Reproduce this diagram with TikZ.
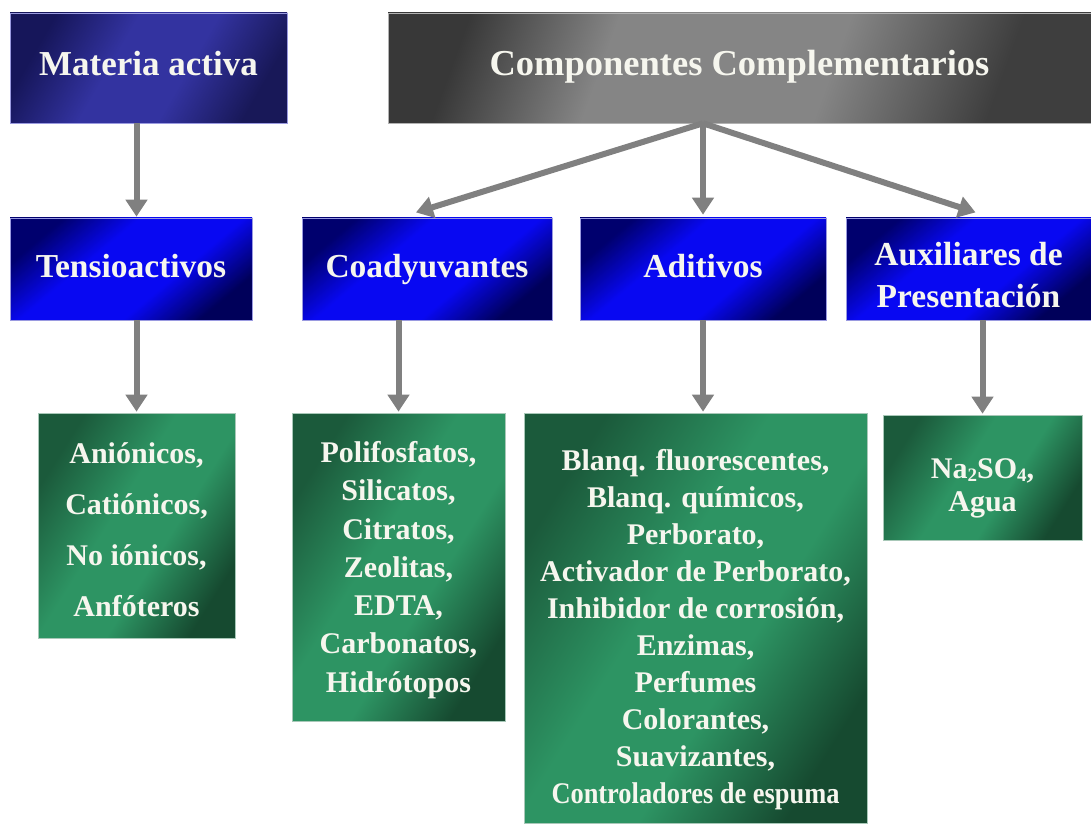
\documentclass[tikz,border=0pt]{standalone}
\usepackage{fontspec}
\setmainfont{Liberation Serif}
\usetikzlibrary{arrows.meta,calc}
\definecolor{navyD}{HTML}{16165A}
\definecolor{navyM}{HTML}{3333A0}
\definecolor{navyR}{HTML}{181858}
\definecolor{grayD}{HTML}{383838}
\definecolor{grayM}{HTML}{858585}
\definecolor{grayR}{HTML}{3E3E3E}
\definecolor{blueD}{HTML}{00006E}
\definecolor{blueM}{HTML}{0808F2}
\definecolor{blueR}{HTML}{00005A}
\definecolor{blueE}{HTML}{9A9AE0}
\definecolor{greenD}{HTML}{1B5A3B}
\definecolor{greenM}{HTML}{2D9463}
\definecolor{greenR}{HTML}{164A30}
\definecolor{greenE}{HTML}{A8C8B8}
\definecolor{arrgray}{HTML}{808080}
\definecolor{txt}{HTML}{F6F6EE}
% bottom colour = first, top colour = last
\pgfdeclareverticalshading{navysh}{100bp}{color(0bp)=(navyR); color(25bp)=(navyR); color(42bp)=(navyM); color(58bp)=(navyM); color(75bp)=(navyD); color(100bp)=(navyD)}
\pgfdeclareverticalshading{graysh}{100bp}{color(0bp)=(grayR); color(27bp)=(grayR); color(42bp)=(grayM); color(62bp)=(grayM); color(75bp)=(grayD); color(100bp)=(grayD)}
\pgfdeclareverticalshading{bluesh}{100bp}{color(0bp)=(blueR); color(25bp)=(blueR); color(40bp)=(blueM); color(60bp)=(blueM); color(75bp)=(blueD); color(100bp)=(blueD)}
\pgfdeclareverticalshading{greensh}{100bp}{color(0bp)=(greenR); color(25bp)=(greenR); color(42bp)=(greenM); color(56bp)=(greenM); color(75bp)=(greenD); color(100bp)=(greenD)}
\newcommand{\lowsub}[1]{\raisebox{-2.5pt}{\fontsize{19}{19}\selectfont #1}}
\begin{document}
\begin{tikzpicture}[x=1pt,y=-1pt,
  boxbase/.style={inner sep=0pt, text=txt, align=center, line width=0.6pt},
  navybox/.style={boxbase, draw=blueE, shading=navysh, shading angle=60,
    font=\bfseries\fontsize{35}{42}\selectfont},
  graybox/.style={boxbase, draw=gray!60, shading=graysh, shading angle=70,
    font=\bfseries\fontsize{36.5}{42}\selectfont},
  bluebox/.style={boxbase, draw=blueE, shading=bluesh, shading angle=40,
    font=\bfseries\fontsize{33.5}{42}\selectfont},
  oneline/.style={text height=23pt, text depth=7pt},
  greenbox/.style={boxbase, draw=greenE, shading=greensh, shading angle=58,
    font=\bfseries\fontsize{30}{#1}\selectfont},
  arr/.style={draw=arrgray, line width=6pt, -{Triangle[width=21pt,length=17pt]}, shorten >=1pt}
]
\fill[white] (0,0) rectangle (1091,826);
\useasboundingbox (0,0) rectangle (1091,826);

% top row
\node[navybox, oneline, minimum width=277pt, minimum height=110pt] (ma) at (148.5,68) {Materia activa};
\node[graybox, oneline, minimum width=703pt, minimum height=110pt] (cc) at (739.5,68) {Componentes Complementarios};

% second row
\node[bluebox, oneline, minimum width=242pt, minimum height=102pt] (tens) at (131,269) {Tensioactivos};
\node[bluebox, oneline, minimum width=250pt, minimum height=102pt] (coad) at (427,269) {Coadyuvantes};
\node[bluebox, oneline, minimum width=246pt, minimum height=102pt] (adit) at (703,269) {Aditivos};
\node[bluebox, minimum width=245pt, minimum height=102pt] (aux) at (968.5,269) {\rule{0pt}{35pt}Auxiliares de\\Presentación};

% third row
\node[greenbox=51, minimum width=197pt, minimum height=225pt] (gA) at (136.5,525.5)
  {\rule{0pt}{29pt}Aniónicos,\\Catiónicos,\\No iónicos,\\Anfóteros};
\node[greenbox=38.3, minimum width=213pt, minimum height=308pt] (gC) at (398.5,567)
  {\rule{0pt}{27pt}Polifosfatos,\\Silicatos,\\Citratos,\\Zeolitas,\\EDTA,\\Carbonatos,\\Hidrótopos};
\node[greenbox=37, minimum width=343pt, minimum height=410pt] (gD) at (695.5,618)
  {\rule{0pt}{44pt}Blanq. fluorescentes,\\Blanq. químicos,\\Perborato,\\Activador de Perborato,\\Inhibidor de corrosión,\\Enzimas,\\Perfumes\\Colorantes,\\Suavizantes,\\\scalebox{0.88}[1]{Controladores de espuma}};
\node[greenbox=33, minimum width=199pt, minimum height=125pt] (gE) at (982.5,477.5)
  {\rule{0pt}{42pt}Na\lowsub{2}SO\lowsub{4},\\Agua};

% connectors
\draw[arr] (ma.south -| gA.north) -- (tens.north -| gA.north);
\draw[arr] (cc.south -| adit.north) -- ($(coad.north)+(-12,-5)$);
\draw[arr] (cc.south -| adit.north) -- ($(adit.north)+(0,-2)$);
\draw[arr] (cc.south -| adit.north) -- ($(aux.north)+(8,-5)$);
\draw[arr] (tens.south -| gA.north) -- (gA.north);
\draw[arr] (coad.south -| gC.north) -- (gC.north);
\draw[arr] (adit.south) -- (adit.south |- gD.north);
\draw[arr] (gE.north |- aux.south) -- (gE.north);
\end{tikzpicture}
\end{document}
